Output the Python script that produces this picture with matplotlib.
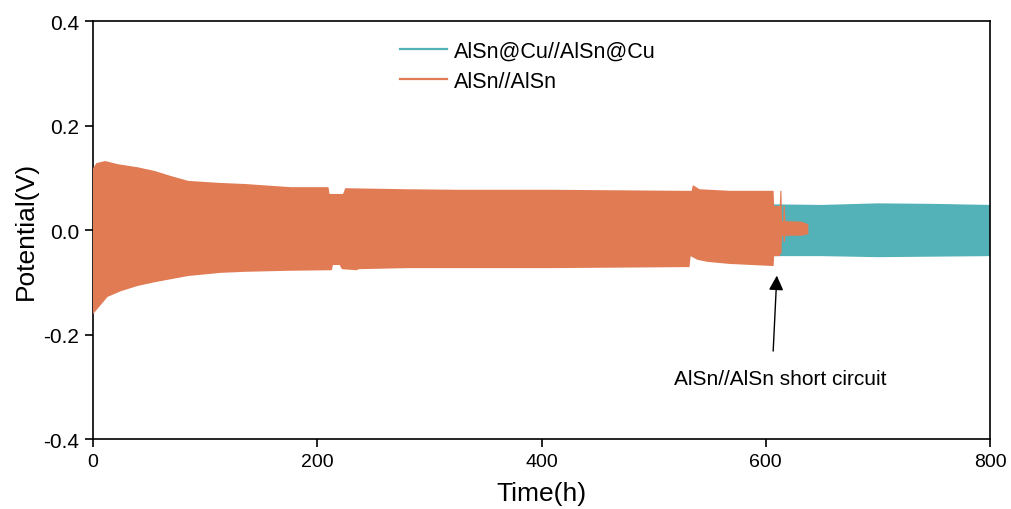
import numpy as np
import matplotlib
matplotlib.use("Agg")
import matplotlib.pyplot as plt
from matplotlib import font_manager

plt.rcParams['font.family'] = ['Liberation Sans', 'DejaVu Sans']

# ---- data: voltage envelopes of the galvanostatic cycling (time in h, potential in V)
# AlSn//AlSn (bare) – upper envelope
alsn_upper_t = [0, 3, 11, 22, 40, 55, 70, 85, 114, 136, 176, 210, 211, 223, 225,
                280, 325, 408, 526, 534, 535, 541, 568, 607,
                607.5, 612.5, 613, 614, 614.5, 615.5, 616, 617, 617.5, 632, 638]
alsn_upper_v = [0.118, 0.128, 0.132, 0.126, 0.120, 0.113, 0.103, 0.094, 0.090, 0.088,
                0.082, 0.082, 0.069, 0.069, 0.080, 0.078, 0.077, 0.077, 0.075, 0.075,
                0.086, 0.078, 0.075, 0.075,
                0.046, 0.046, 0.075, 0.075, 0.017, 0.017, 0.046, 0.046, 0.017, 0.016, 0.011]
# AlSn//AlSn (bare) – lower envelope
alsn_lower_t = [0, 4, 13, 25, 40, 55, 70, 85, 114, 136, 176, 213, 214, 220, 222,
                235, 237, 280, 408, 532, 533, 539, 548, 568, 607,
                607.5, 612.5, 613, 614, 614.5, 615.5, 616, 617, 617.5, 632, 638]
alsn_lower_v = [-0.161, -0.151, -0.128, -0.117, -0.107, -0.100, -0.094, -0.088, -0.082,
                -0.080, -0.078, -0.077, -0.067, -0.067, -0.075, -0.077, -0.075, -0.073,
                -0.073, -0.071, -0.050, -0.057, -0.061, -0.065, -0.069,
                -0.050, -0.050, -0.046, -0.046, -0.011, -0.011, -0.023, -0.023, -0.011,
                -0.011, -0.008]

# AlSn@Cu//AlSn@Cu – envelope
cu_t = [0, 610, 650, 700, 750, 800]
cu_upper_v = [0.049, 0.049, 0.048, 0.051, 0.050, 0.048]
cu_lower_v = [-0.050, -0.050, -0.050, -0.052, -0.051, -0.050]

series_labels = ['AlSn@Cu//AlSn@Cu', 'AlSn//AlSn']
x_ticks = [0, 200, 400, 600, 800]
y_ticks = [-0.4, -0.2, 0.0, 0.2, 0.4]

short_tip = (610, -0.082)
short_tail = (606.5, -0.237)
short_text_pos = (613, -0.285)

TEAL = '#53B1B8'
ORANGE = '#E07B54'

fig = plt.figure(figsize=(10.11, 5.10), dpi=100)
ax = fig.add_axes([93 / 1011, 1 - 440 / 510, (990 - 93) / 1011, (440 - 22) / 510])

# cycling bands drawn as closed envelope polygons
ax.fill(np.concatenate([cu_t, cu_t[::-1]]),
        np.concatenate([cu_upper_v, cu_lower_v[::-1]]),
        color=TEAL, lw=0, zorder=2)
ax.fill(np.concatenate([alsn_upper_t, alsn_lower_t[::-1]]),
        np.concatenate([alsn_upper_v, alsn_lower_v[::-1]]),
        color=ORANGE, lw=0, zorder=3)

ax.set_xlim(0, 800)
ax.set_ylim(-0.4, 0.4)
ax.set_xticks(x_ticks)
ax.set_yticks(y_ticks)
ax.set_yticklabels([f'{v:.1f}' for v in y_ticks])
ax.set_xticklabels([str(v) for v in x_ticks])

narrow = 'Liberation Sans Narrow' if any(
    f.name == 'Liberation Sans Narrow' for f in font_manager.fontManager.ttflist) else 'Liberation Sans'
for lab in ax.get_xticklabels():
    lab.set_family([narrow, 'DejaVu Sans'])
    lab.set_fontsize(14)
for lab in ax.get_yticklabels():
    lab.set_fontsize(15)

ax.tick_params(axis='both', direction='out', length=6, width=1.2, pad=4)
ax.tick_params(top=False, right=False)
for sp in ax.spines.values():
    sp.set_linewidth(1.2)

ax.set_xlabel('Time(h)', fontsize=19, labelpad=8)
ax.set_ylabel('Potential(V)', fontsize=19, labelpad=4)

# legend
handles = [plt.Line2D([], [], color=TEAL, lw=1.6),
           plt.Line2D([], [], color=ORANGE, lw=1.6)]
fig.legend(handles, series_labels, loc='upper left',
           bbox_to_anchor=(400 / 1011, 1 - 42 / 510), bbox_transform=fig.transFigure,
           frameon=False, fontsize=15.5, handlelength=2.2, handletextpad=0.3,
           labelspacing=0.4, borderpad=0, borderaxespad=0)

# short-circuit marker
ax.annotate('', xy=short_tip, xytext=short_tail,
            arrowprops=dict(arrowstyle='-|>', color='black', lw=1,
                            mutation_scale=22), zorder=5)
ax.text(*short_text_pos, 'AlSn//AlSn short circuit', ha='center', va='center',
        fontsize=15)

fig.savefig('out.png', dpi=100)
